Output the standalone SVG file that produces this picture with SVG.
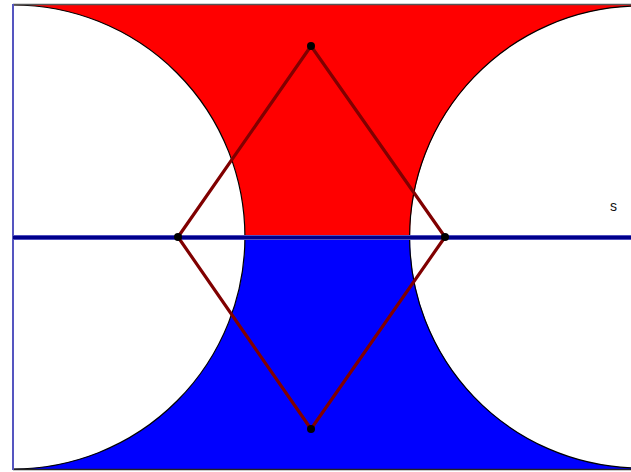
<svg xmlns="http://www.w3.org/2000/svg" width="631" height="472" viewBox="0 0 631 472">
<style>
.curve{fill:none;stroke:#000;stroke-width:1.2}
.edge{fill:none;stroke:#800000;stroke-width:3.2;stroke-linejoin:round}
.pt{fill:#000}
.lbl{font-family:"Liberation Sans",Arial,sans-serif;font-size:14px;fill:#111}
</style>
<rect width="631" height="472" fill="#fff"/>
<g id="regions">
<path id="red-region" d="M13,5 A232,232 0 0 1 245,237 L410,237 A231,231 0 0 1 631,6.2 L631,5 Z" fill="#ff0000"/>
<path id="blue-region" d="M245,237 L410,237 A231,231 0 0 0 631,467.8 L631,469 L13,469 A232,232 0 0 0 245,237 Z" fill="#0000ff"/>
<path class="curve" d="M13,5 A232,232 0 0 1 13,469"/>
<path class="curve" d="M631,6.2 A231,231 0 0 0 631,467.8"/>
</g>
<g id="frame">
<line x1="13" y1="4.5" x2="631" y2="4.5" stroke="#555" stroke-width="1.5"/>
<line x1="13" y1="469.5" x2="631" y2="469.5" stroke="#222" stroke-width="1.5"/>
<line x1="13" y1="4" x2="13" y2="470" stroke="#5555c0" stroke-width="2"/>
</g>
<g id="line-s">
<line x1="13" y1="237.5" x2="631" y2="237.5" stroke="#6a6ad0" stroke-width="5"/>
<line x1="13" y1="237.5" x2="631" y2="237.5" stroke="#00008b" stroke-width="3.5"/>
<text class="lbl" x="610" y="211">s</text>
</g>
<g id="connectors">
<polygon class="edge" points="311,46 445,237 311,429 178,237"/>
</g>
<g id="node-top"><circle class="pt" cx="311" cy="46" r="4"/></g>
<g id="node-left"><circle class="pt" cx="178" cy="237" r="4"/></g>
<g id="node-right"><circle class="pt" cx="445" cy="237" r="4"/></g>
<g id="node-bottom"><circle class="pt" cx="311" cy="429" r="4"/></g>
</svg>
